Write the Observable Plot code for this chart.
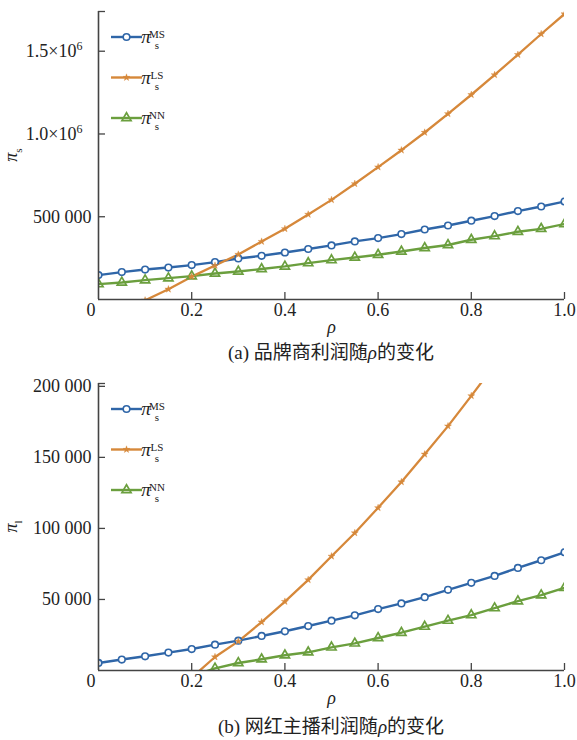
<!DOCTYPE html>
<html>
<head>
<meta charset="utf-8">
<script src="https://cdn.jsdelivr.net/npm/d3@7"></script>
<script src="https://cdn.jsdelivr.net/npm/@observablehq/plot@0.6"></script>
<style>
  body { margin: 0; background: #fff; }
  #wrap { width: 577px; }
  .cap { font-family: "Liberation Serif", "Noto Sans CJK SC", serif; font-size: 19px; color: #222;
         margin-left: 98px; width: 466px; text-align: center; }
  svg { display: block; }
  svg text { font-family: "Liberation Serif", serif; }
</style>
</head>
<body>
<div id="wrap">
  <div id="chartA"></div>
  <div class="cap" style="height:26px;line-height:26px;">(a) 品牌商利润随<i>ρ</i>的变化</div>
  <div id="chartB"></div>
  <div class="cap" style="height:22px;line-height:22px;">(b) 网红主播利润随<i>ρ</i>的变化</div>
</div>
<script>
// ---------- data ----------
const rho = [0, 0.05, 0.1, 0.15, 0.2, 0.25, 0.3, 0.35, 0.4, 0.45, 0.5, 0.55, 0.6, 0.65, 0.7, 0.75, 0.8, 0.85, 0.9, 0.95, 1.0];

// (a) brand profit
const msA = [147500, 165600, 181000, 193000, 208000, 226000, 248000, 264000, 284000, 305000, 327000, 351000, 371000, 395000, 423000, 447000, 476000, 504000, 534000, 562000, 592000];
const nnA = [93000, 103000, 117000, 129000, 141000, 157000, 169000, 184000, 200000, 220000, 238000, 254000, 270000, 290000, 311000, 329000, 361000, 383000, 409000, 427000, 456000];
const rhoLsA = [0.1, 0.15, 0.2, 0.25, 0.3, 0.35, 0.4, 0.45, 0.5, 0.55, 0.6, 0.65, 0.7, 0.75, 0.8, 0.85, 0.9, 0.95, 1.0];
const lsA = [-5000, 62000, 138000, 205000, 272000, 350000, 427000, 514000, 602000, 699000, 800000, 902000, 1009000, 1122000, 1237000, 1357000, 1479000, 1604000, 1725000];
const yTicksA = [500000, 1000000, 1500000];
const yLabelsA = ["500 000", "1.0×10^6", "1.5×10^6"];
const yMaxA = 1740000;

// (b) influencer profit
const msB = [5300, 7700, 10000, 12600, 15100, 18200, 21000, 24300, 27600, 31300, 35100, 38800, 43200, 47200, 51600, 56800, 61700, 66600, 72200, 77600, 83200];
const rhoNnB = [0.15, 0.2, 0.25, 0.3, 0.35, 0.4, 0.45, 0.5, 0.55, 0.6, 0.65, 0.7, 0.75, 0.8, 0.85, 0.9, 0.95, 1.0];
const nnB = [-9000, -4000, 1500, 5300, 7900, 10700, 12800, 16300, 19100, 22900, 26600, 30900, 35100, 39000, 43900, 48800, 53000, 58200];
const rhoLsB = [0.2, 0.25, 0.3, 0.35, 0.4, 0.45, 0.5, 0.55, 0.6, 0.65, 0.7, 0.75, 0.8, 0.85];
const lsB = [-5000, 9500, 20500, 34100, 48500, 63800, 80400, 96800, 114500, 132700, 152200, 172000, 193300, 215000];
const yTicksB = [50000, 100000, 150000, 200000];
const yLabelsB = ["50 000", "100 000", "150 000", "200 000"];
const yMaxB = 202000;

const xTicks = [0.2, 0.4, 0.6, 0.8, 1.0];
const seriesNames = ["MS", "LS", "NN"];

// ---------- style ----------
const BLUE = "#2f66a8", ORANGE = "#d6883a", GREEN = "#6b9f3e", AXIS = "#444";
const FONT = '"Liberation Serif", "Times New Roman", serif';

function zip(xs, ys) { return xs.map((x, i) => ({x, y: ys[i]})); }

function makeChart({ms, lsX, ls, nnX, nn, yTicks, yLabels, yMax, height, marginTop, marginBottom, yLabelSub}) {
  const marginLeft = 98, marginRight = 13, width = 577;
  const plotH = height - marginTop - marginBottom;
  const plotW = width - marginLeft - marginRight;
  const msD = zip(rho, ms), lsD = zip(lsX, ls), nnD = zip(nnX, nn);
  const svg = Plot.plot({
    width, height, marginLeft, marginRight, marginTop, marginBottom,
    style: {fontFamily: FONT, fontSize: "18px", color: "#222", background: "white"},
    x: {domain: [0, 1], axis: null},
    y: {domain: [0, yMax], axis: null},
    marks: [
      Plot.line(msD, {x: "x", y: "y", stroke: BLUE, strokeWidth: 2.4, clip: true}),
      Plot.line(nnD, {x: "x", y: "y", stroke: GREEN, strokeWidth: 2.4, clip: true}),
      Plot.line(lsD, {x: "x", y: "y", stroke: ORANGE, strokeWidth: 2.3, clip: true}),
      Plot.dot(msD, {x: "x", y: "y", symbol: "circle", r: 3.3, stroke: BLUE, fill: "white", strokeWidth: 1.6, clip: true}),
      Plot.dot(nnD, {x: "x", y: "y", symbol: "triangle", r: 3.4, stroke: GREEN, fill: "none", strokeWidth: 1.7, clip: true}),
      Plot.dot(lsD, {x: "x", y: "y", symbol: "star", r: 2.2, fill: ORANGE, stroke: ORANGE, strokeWidth: 0.4, clip: true}),
      // axes lines
      Plot.ruleX([0], {stroke: AXIS, strokeWidth: 1.6}),
      Plot.ruleY([0], {stroke: AXIS, strokeWidth: 1.6}),
      // inward ticks
      Plot.tickX(xTicks, {x: d => d, insetTop: plotH - 7, stroke: AXIS, strokeWidth: 1.3}),
      Plot.tickY(yTicks.concat([yMax]), {y: d => d, insetRight: plotW - 7, stroke: AXIS, strokeWidth: 1.3}),
      // tick labels
      Plot.text(xTicks, {x: d => d, frameAnchor: "bottom", dy: 16, text: d => d3.format(".1f")(d), fill: "#222"}),
      Plot.text(["0"], {frameAnchor: "bottom-left", dx: -12, dy: 16, fill: "#222"}),
      Plot.text(yTicks, {y: d => d, frameAnchor: "left", dx: -7, textAnchor: "end", text: yLabels, fill: "#222"}),
      Plot.text(["ρ"], {frameAnchor: "bottom", dy: 33, fontStyle: "italic", fill: "#222"})
    ]
  });

  const s = d3.select(svg);
  // superscript exponents in tick labels
  s.selectAll("text").each(function() {
    const t = this.textContent;
    if (t.includes("^")) {
      const [base, exp] = t.split("^");
      const el = d3.select(this);
      el.text(base);
      el.append("tspan").attr("dy", -7).attr("font-size", 12).text(exp);
      el.attr("dx", -9);
    }
  });

  // y-axis label (rotated)
  const cy = marginTop + plotH / 2;
  const yl = s.append("text")
    .attr("transform", `translate(17,${cy}) rotate(-90)`)
    .attr("text-anchor", "middle")
    .style("font-family", FONT).attr("fill", "#222");
  yl.append("tspan").attr("font-style", "italic").attr("font-size", 18).text("π");
  yl.append("tspan").attr("font-size", 11).attr("dy", 5).text(yLabelSub);

  // legend
  const colors = [BLUE, ORANGE, GREEN];
  const lg = s.append("g").style("font-family", FONT).attr("fill", "#222");
  seriesNames.forEach((name, i) => {
    const ly = marginTop + 26 + i * 40.5;
    const g = lg.append("g").attr("transform", `translate(0,${ly})`);
    g.append("line").attr("x1", 111).attr("x2", 142).attr("y1", 0).attr("y2", 0)
      .attr("stroke", colors[i]).attr("stroke-width", 2.4);
    const sym = d3.symbol().type([d3.symbolCircle, d3.symbolStar, d3.symbolTriangle][i])
      .size(Math.PI * [3.3, 2.2, 3.4][i] ** 2);
    g.append("path").attr("d", sym()).attr("transform", "translate(126.5,0)")
      .attr("fill", ["white", ORANGE, "none"][i]).attr("stroke", colors[i])
      .attr("stroke-width", [1.6, 0.4, 1.7][i]);
    g.append("text").attr("x", 146).attr("y", 6).attr("font-style", "italic").attr("font-size", 19).text("π");
    g.append("text").attr("x", 157).attr("y", 1).attr("font-size", 11).text(name);
    g.append("text").attr("x", 157).attr("y", 12).attr("font-size", 11).text("s");
  });
  return svg;
}

document.getElementById("chartA").append(makeChart({
  ms: msA, lsX: rhoLsA, ls: lsA, nnX: rho, nn: nnA,
  yTicks: yTicksA, yLabels: yLabelsA, yMax: yMaxA,
  height: 340, marginTop: 11, marginBottom: 41, yLabelSub: "s"
}));
document.getElementById("chartB").append(makeChart({
  ms: msB, lsX: rhoLsB, ls: lsB, nnX: rhoNnB, nn: nnB,
  yTicks: yTicksB, yLabels: yLabelsB, yMax: yMaxB,
  height: 350, marginTop: 17, marginBottom: 46, yLabelSub: "l"
}));
</script>
</body>
</html>
